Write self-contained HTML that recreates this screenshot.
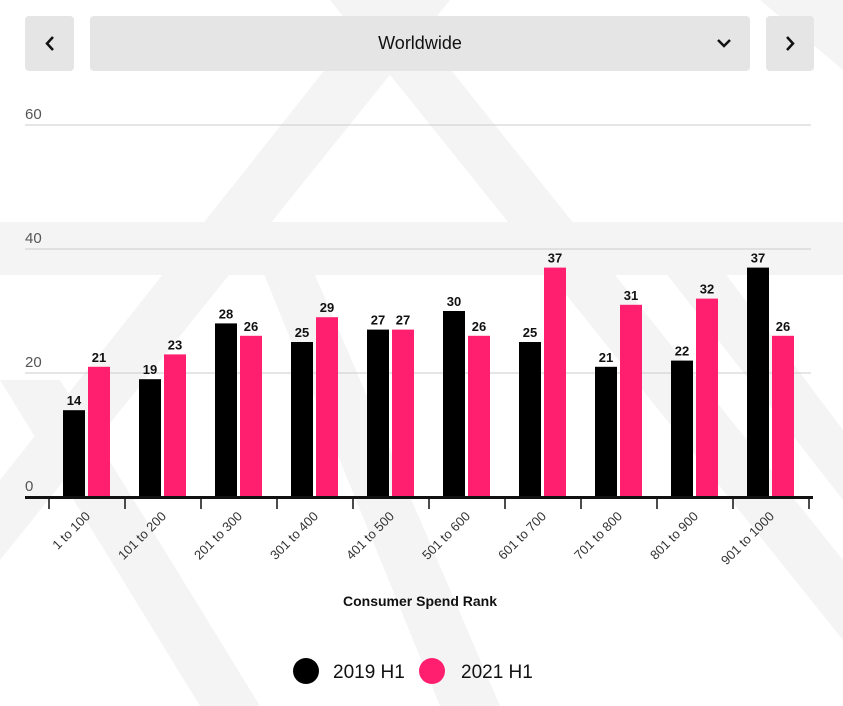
<!DOCTYPE html>
<html><head><meta charset="utf-8"><style>
html,body{margin:0;padding:0;background:#fff;width:843px;height:706px;overflow:hidden;font-family:"Liberation Sans",sans-serif}
.btn{position:absolute;top:16px;height:55px;background:#e5e5e5;border-radius:4px}
</style></head><body>
<svg width="843" height="706" style="position:absolute;left:0;top:0">
<g fill="#f4f4f4">
<polygon points="330,0 395,0 843,560 843,640"/>
<polygon points="380,0 450,0 0,560 0,480"/>
<polygon points="0,222 843,222 843,275 0,275"/>
<polygon points="250,240 300,240 500,706 440,706"/>
<polygon points="640,240 700,240 843,430 843,500"/>
<polygon points="0,380 60,380 260,706 200,706"/>
<polygon points="760,0 843,0 843,70"/>
</g>
</svg>
<div class="btn" style="left:25px;width:49px"><svg width="49" height="55"><path d="M28 21 L22 27.5 L28 34" stroke="#111" stroke-width="2.5" fill="none"/></svg></div>
<div class="btn" style="left:90px;width:660px"><div style="position:absolute;left:0;right:0;top:17px;text-align:center;font-size:18px;color:#111">Worldwide</div><svg style="position:absolute;left:625px;top:20px" width="20" height="15"><path d="M3 4 L9 10 L15 4" stroke="#111" stroke-width="2.5" fill="none"/></svg></div>
<div class="btn" style="left:766px;width:48px"><svg width="48" height="55"><path d="M21 21 L27 27.5 L21 34" stroke="#111" stroke-width="2.5" fill="none"/></svg></div>
<svg id="chart" width="843" height="706" style="position:absolute;left:0;top:0"></svg>
<script>
const categories=["1 to 100","101 to 200","201 to 300","301 to 400","401 to 500","501 to 600","601 to 700","701 to 800","801 to 900","901 to 1000"];
const series2019=[14,19,28,25,27,30,25,21,22,37];
const series2021=[21,23,26,29,27,26,37,31,32,26];
const yTicks=[0,20,40,60];
const svg=document.getElementById('chart');const NS="http://www.w3.org/2000/svg";
function mk(t,a,txt){const e=document.createElementNS(NS,t);for(const k in a)e.setAttribute(k,a[k]);if(txt!==undefined)e.textContent=txt;svg.appendChild(e);return e;}
const y=v=>497-v*6.2;const x0=49,band=76;const xc=i=>x0+band*i+band/2;
yTicks.forEach(t=>{if(t>0){const l=mk('line',{x1:25,x2:811,y1:y(t),y2:y(t),stroke:'#ccc','stroke-width':1});}
const tx=mk('text',{x:25,y:y(t)-6,'font-size':15,fill:'#555'},String(t));});
categories.forEach((c,i)=>{
const c1=xc(i);
[[series2019[i],'#000',c1-24],[series2021[i],'#ff1f6e',c1+1]].forEach(([v,col,bx],j)=>{
const r=mk('rect',{x:bx,y:y(v),width:22,height:497-y(v),fill:col});

const t=mk('text',{x:bx+11,y:y(v)-5,'text-anchor':'middle','font-size':13,'font-weight':'bold',fill:'#111'},String(v));
});
const lb=mk('text',{x:xc(i)+4,y:517,'text-anchor':'end','font-size':13,fill:'#333',transform:`rotate(-45 ${xc(i)+4} 517)`},c);

});
for(let i=0;i<=categories.length;i++){const tk=mk('line',{x1:x0+band*i,x2:x0+band*i,y1:497,y2:509,stroke:'#111','stroke-width':1.5});}
const ax=mk('line',{x1:25,x2:813,y1:497.5,y2:497.5,stroke:'#111','stroke-width':3});
const tt=mk('text',{x:420,y:606,'text-anchor':'middle','font-size':14,'font-weight':'bold',fill:'#111'},'Consumer Spend Rank');
[[306,'#000','2019 H1',333],[432,'#ff1f6e','2021 H1',461]].forEach(([cx,col,lab,tx])=>{
const c=mk('circle',{cx:cx,cy:671,r:13,fill:col});
const t=mk('text',{x:tx,y:678,'font-size':19,fill:'#111'},lab);});
</script>
</body></html>
